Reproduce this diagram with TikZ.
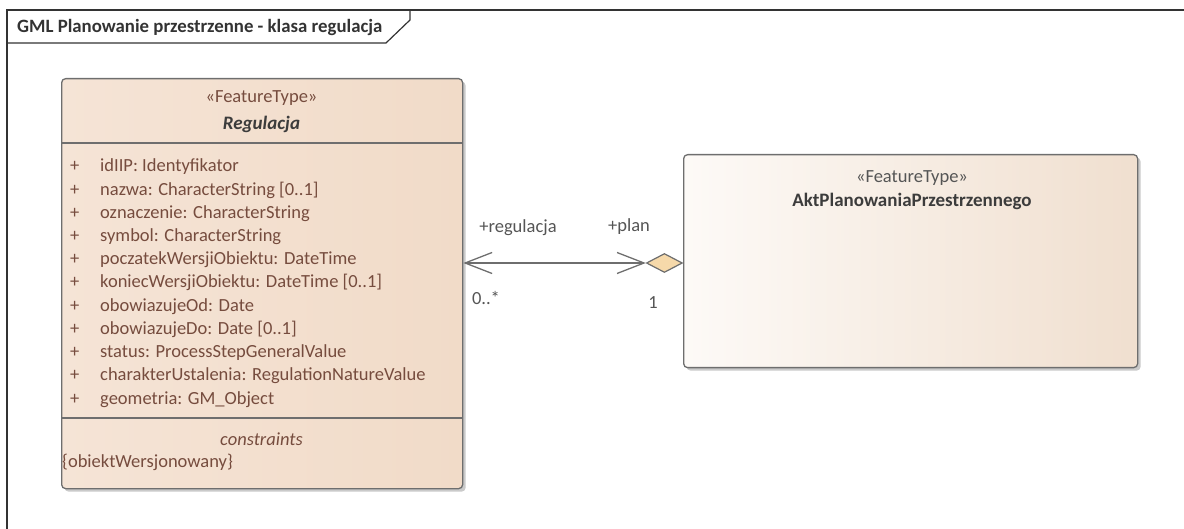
\documentclass[tikz,border=0pt]{standalone}
\usepackage{fontspec}
\setmainfont{Carlito}
\usetikzlibrary{positioning,shapes.geometric,arrows.meta,shadows}

\definecolor{attrtext}{RGB}{118,76,62}
\definecolor{nametext}{RGB}{60,60,60}
\definecolor{labeltext}{RGB}{85,85,85}
\definecolor{boxline}{RGB}{110,110,110}
\definecolor{regleft}{RGB}{245,228,214}
\definecolor{regright}{RGB}{241,219,200}
\definecolor{aktleft}{RGB}{253,250,247}
\definecolor{aktright}{RGB}{240,223,207}
\definecolor{aggfill}{RGB}{246,217,170}

\tikzset{
  frameline/.style={draw=black!80, line width=1.2pt},
  classbox/.style={draw=boxline, line width=1.3pt, rounded corners=4pt,
    drop shadow={shadow xshift=3pt, shadow yshift=-3pt, opacity=.35, fill=black!60}},
  boxdiv/.style={draw=boxline, line width=1.1pt},
  stereo/.style={inner sep=0pt, font=\fontsize{18.5}{22}\selectfont},
  attr/.style={anchor=base west, inner sep=0pt, text=attrtext, font=\fontsize{18.5}{22}\selectfont},
  endlabel/.style={inner sep=0pt, text=labeltext, font=\fontsize{18.5}{22}\selectfont},
  aggdiamond/.style={diamond, draw=boxline, line width=1.2pt, fill=aggfill, inner sep=0pt,
    minimum width=36pt, minimum height=19pt},
  assoc/.style={draw=boxline, line width=1.3pt,
    {Straight Barb[length=27pt,width=21pt]}-{Straight Barb[length=27pt,width=21pt]}}
}

\begin{document}
\begin{tikzpicture}[x=1pt,y=-1pt]
  \useasboundingbox (0,0) rectangle (1184,529);

  % diagram frame
  \draw[frameline] (7,529) -- (7,10) -- (1184,10);
  \draw[frameline] (7,43) -- (386,43) -- (410,20) -- (410,10);
  \node[anchor=base west, inner sep=0pt, text=black!80, font=\fontsize{18.8}{22}\selectfont\bfseries]
    (title) at (17,33) {GML Planowanie przestrzenne - klasa regulacja};

  % classes
  \node[classbox, left color=regleft, right color=regright, anchor=north west,
    minimum width=401pt, minimum height=410pt] (reg) at (61,78) {};
  \node[classbox, left color=aktleft, right color=aktright, anchor=north west,
    minimum width=454pt, minimum height=213pt] (akt) at (683,154) {};

  \coordinate (hdr) at (0,143);
  \coordinate (cstr) at (0,418);
  \draw[boxdiv] (reg.west |- hdr) -- (reg.east |- hdr);
  \draw[boxdiv] (reg.west |- cstr) -- (reg.east |- cstr);

  \node[stereo, text=attrtext] (regst) at (261.5,98) {«FeatureType»};
  \node[stereo, text=nametext, font=\fontsize{19}{22}\selectfont\bfseries\itshape]
    (regname) at (261.5,124) {Regulacja};

  \foreach \attrname [count=\i from 0] in {{idIIP: Identyfikator},
      {nazwa: CharacterString [0..1]}, {oznaczenie: CharacterString},
      {symbol: CharacterString}, {poczatekWersjiObiektu: DateTime},
      {koniecWersjiObiektu: DateTime [0..1]}, {obowiazujeOd: Date},
      {obowiazujeDo: Date [0..1]}, {status: ProcessStepGeneralValue},
      {charakterUstalenia: RegulationNatureValue}, {geometria: GM\_Object}} {
    \node[attr] (plus\i) at (70,172+23.2*\i) {+};
    \node[attr] (attr\i) at (100,172+23.2*\i) {\attrname};
  }

  \node[stereo, text=attrtext, font=\fontsize{18.5}{22}\selectfont\itshape]
    (cstrtitle) at (261.5,439) {constraints};
  \node[attr] (cstr0) at (62,467) {\{obiektWersjonowany\}};

  \node[stereo, text=labeltext] (aktst) at (912,178) {«FeatureType»};
  \node[stereo, text=nametext, font=\fontsize{19}{22}\selectfont\bfseries]
    (aktname) at (912,201) {AktPlanowaniaPrzestrzennego};

  % association
  \coordinate (assocy) at (0,263);
  \node[aggdiamond, anchor=east] (agg) at (akt.west |- assocy) {};
  \draw[assoc] (reg.east |- assocy) -- (agg.west);

  \node[endlabel] (rolereg) at (518,228) {+regulacja};
  \node[endlabel] (roleplan) at (629,227) {+plan};
  \node[endlabel] (multreg) at (486,298) {0..*};
  \node[endlabel] (multplan) at (653,303) {1};
\end{tikzpicture}
\end{document}
